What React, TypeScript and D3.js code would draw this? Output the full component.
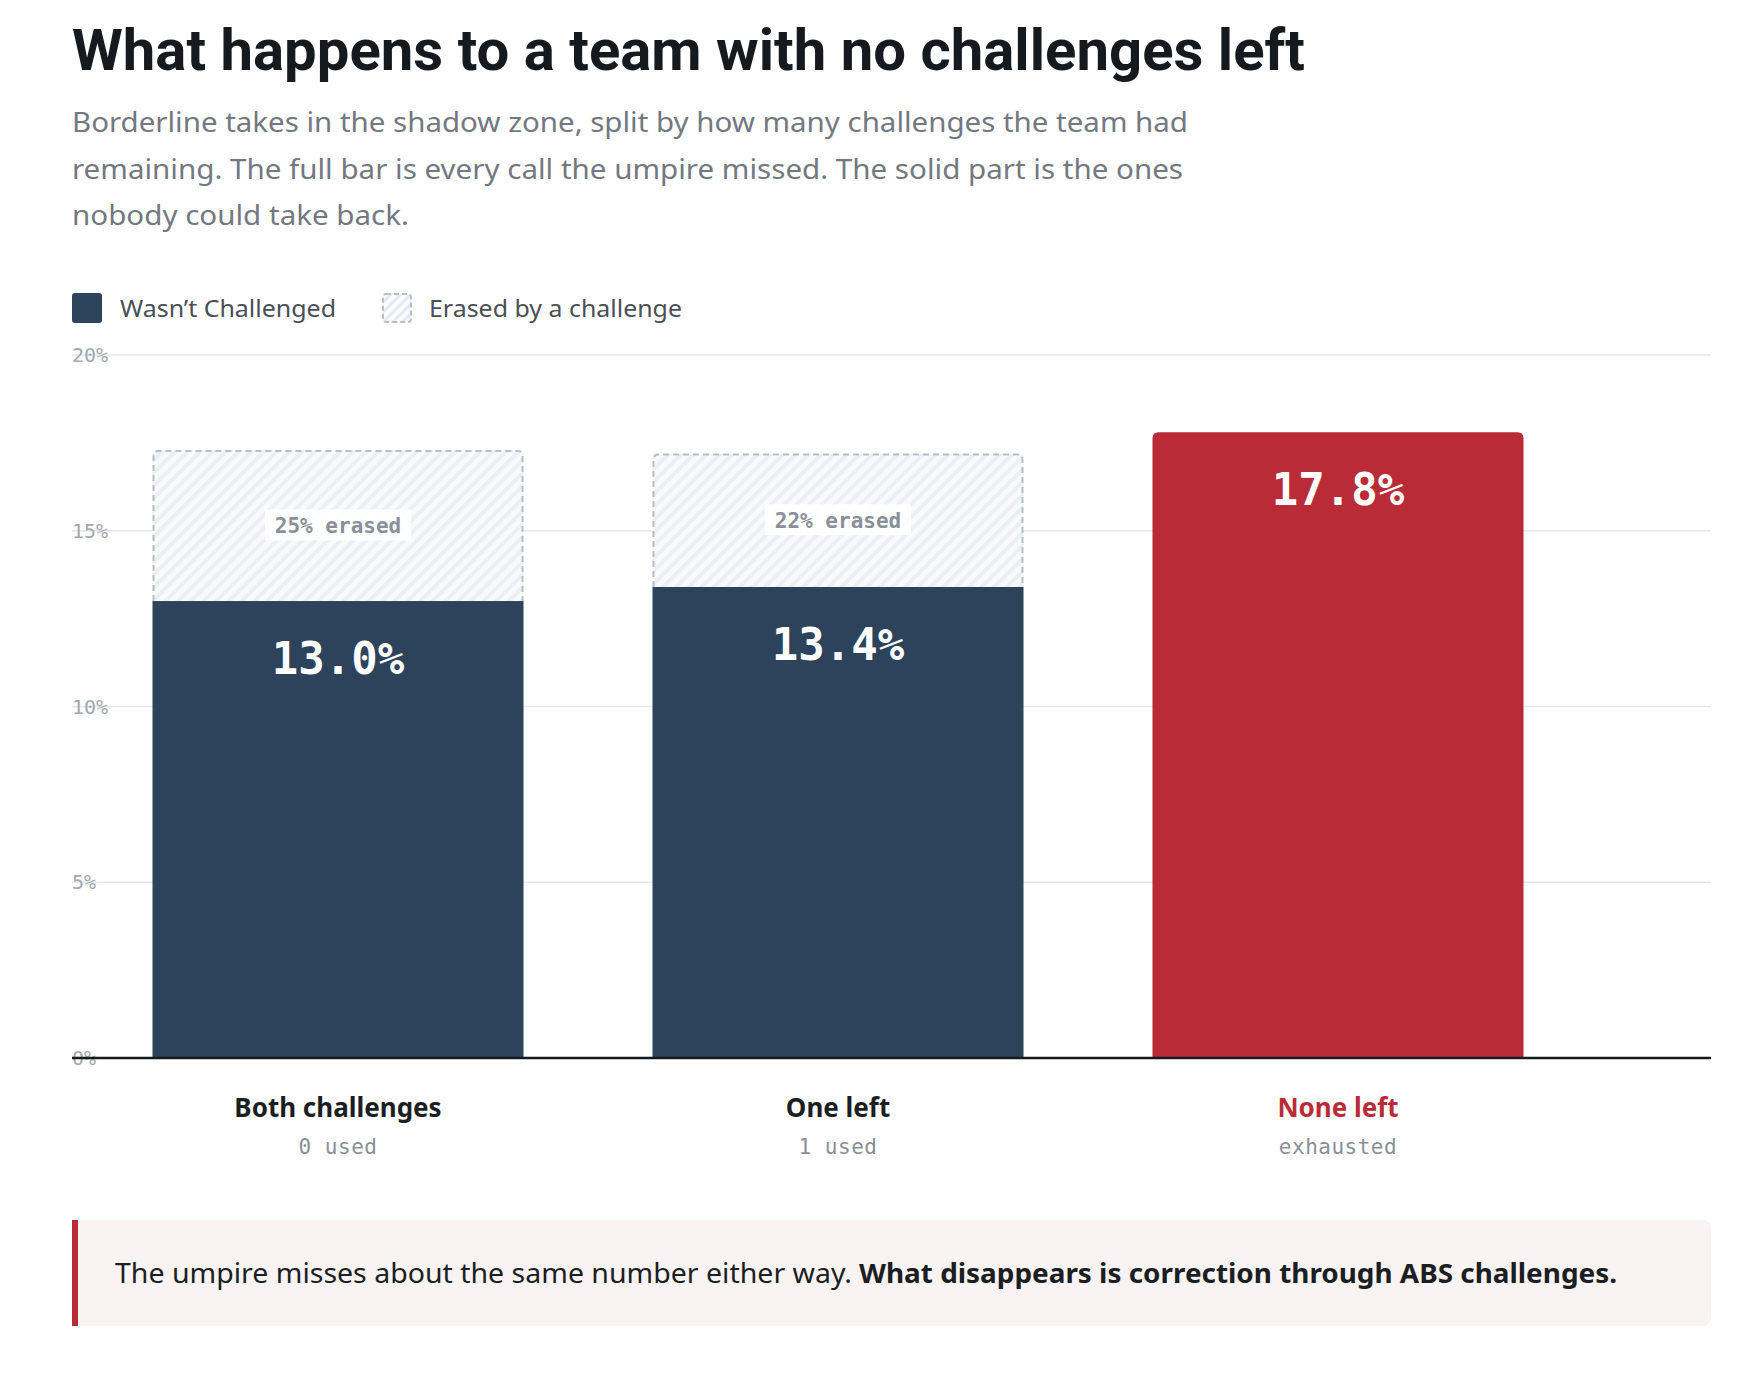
import React, { useEffect } from 'react'
import * as d3 from 'd3'

// chart data
const categories = ['Both challenges', 'One left', 'None left']
const subLabels = ['0 used', '1 used', 'exhausted']
const totalMissed = [17.3, 17.2, 17.8] // full bar: every missed call
const notChallenged = [13.0, 13.4, 17.8] // solid part
const erasedLabels = ['25% erased', '22% erased', '']
const yTicks = [0, 5, 10, 15, 20]

const subtitleLines = [
  'Borderline takes in the shadow zone, split by how many challenges the team had',
  'remaining. The full bar is every call the umpire missed. The solid part is the ones',
  'nobody could take back.',
]
const subtitleWidths = [1116, 1111, 337]

const W = 1746
const H = 1378
const SANS = '"Noto Sans", Roboto, sans-serif'
const MONO = '"DejaVu Sans Mono", "Liberation Mono", monospace'
const NAVY = '#2c435b'
const RED = '#b92b36'

// rect with only the top corners rounded
const topRounded = (x: number, y: number, w: number, h: number, r: number) =>
  `M${x},${y + h}V${y + r}Q${x},${y} ${x + r},${y}H${x + w - r}Q${x + w},${y} ${x + w},${y + r}V${y + h}Z`

const topOutline = (x: number, y: number, w: number, h: number, r: number) =>
  `M${x},${y + h}V${y + r}Q${x},${y} ${x + r},${y}H${x + w - r}Q${x + w},${y} ${x + w},${y + r}V${y + h}`

const App: React.FC = () => {
  useEffect(() => {
    document.body.style.margin = '0'
  }, [])

  const plotLeft = 72
  const plotRight = 1711

  const x = d3.scaleBand<string>()
    .domain(categories)
    .range([88, 1588])
    .paddingInner(0.258)
    .paddingOuter(0.129)

  const y = d3.scaleLinear().domain([0, 20]).range([1058, 355])

  const bw = x.bandwidth()
  const fmt = d3.format('.1f')

  return (
    <svg width={W} height={H} style={{ display: 'block', background: '#fff' }}>
      <defs>
        <pattern id="hatch" width="9" height="9" patternUnits="userSpaceOnUse" patternTransform="rotate(45)">
          <rect width="9" height="9" fill="#f9fafb" />
          <rect width="4" height="9" fill="#eceef1" />
        </pattern>
        <pattern id="hatchSmall" width="7" height="7" patternUnits="userSpaceOnUse" patternTransform="rotate(45)">
          <rect width="7" height="7" fill="#f9fafb" />
          <rect width="3" height="7" fill="#e6e9ed" />
        </pattern>
      </defs>

      {/* title + subtitle */}
      <text x={72} y={70} fontFamily='Roboto, "Noto Sans", sans-serif' fontWeight={700} fontSize={57} fill="#16191d"
        textLength={1233} lengthAdjust="spacingAndGlyphs">
        What happens to a team with no challenges left
      </text>
      {subtitleLines.map((line, i) => (
        <text key={i} x={72} y={132 + i * 46.5} fontFamily={SANS} fontSize={27} fill="#737881"
          textLength={subtitleWidths[i]} lengthAdjust="spacingAndGlyphs">
          {line}
        </text>
      ))}

      {/* legend */}
      <rect x={72} y={293} width={30} height={30} rx={3} fill={NAVY} />
      <text x={120} y={317} fontFamily={SANS} fontSize={24} fill="#4a4f57"
        textLength={216} lengthAdjust="spacingAndGlyphs">Wasn’t Challenged</text>
      <rect x={383} y={294} width={28} height={28} rx={3} fill="url(#hatchSmall)"
        stroke="#b9bfc8" strokeWidth={2} strokeDasharray="5 3" />
      <text x={429} y={317} fontFamily={SANS} fontSize={24} fill="#4a4f57"
        textLength={253} lengthAdjust="spacingAndGlyphs">Erased by a challenge</text>

      {/* grid */}
      {yTicks.map(t => (
        <g key={t}>
          <line x1={plotLeft} x2={plotRight} y1={y(t)} y2={y(t)} stroke="#e6e7ea" strokeWidth={1.5} />
          <text x={plotLeft} y={y(t) + 7} fontFamily={MONO} fontSize={20} fill="#a3a8b0">{t}%</text>
        </g>
      ))}

      {/* bars */}
      {categories.map((c, i) => {
        const x0 = x(c) as number
        const cx = x0 + bw / 2
        const last = i === categories.length - 1
        const yTot = y(totalMissed[i])
        const ySolid = y(notChallenged[i])
        return (
          <g key={c}>
            {!last && (
              <>
                <path d={topRounded(x0, yTot, bw, ySolid - yTot, 5)} fill="url(#hatch)" />
                <path d={topOutline(x0 + 1, yTot + 1, bw - 2, ySolid - yTot - 1, 5)} fill="none"
                  stroke="#b9bfc8" strokeWidth={2} strokeDasharray="6 4" />
                <rect x={cx - 73} y={(yTot + ySolid) / 2 - 16} width={146} height={31} fill="#fff" fillOpacity={0.9} />
                <text x={cx} y={(yTot + ySolid) / 2 + 8} textAnchor="middle" fontFamily={MONO}
                  fontWeight={700} fontSize={21} fill="#8a8f98">{erasedLabels[i]}</text>
                <rect x={x0} y={ySolid} width={bw} height={y(0) - ySolid} fill={NAVY} />
              </>
            )}
            {last && (
              <path d={topRounded(x0, ySolid, bw, y(0) - ySolid, 6)} fill={RED} />
            )}
            <text x={cx} y={ySolid + 73} textAnchor="middle" fontFamily={MONO} fontWeight={700}
              fontSize={44} fill="#fff">{fmt(notChallenged[i])}%</text>
            <text x={cx} y={1117} textAnchor="middle" fontFamily={SANS} fontWeight={700} fontSize={26}
              fill={last ? RED : '#1b1e22'}>{c}</text>
            <text x={cx} y={1154} textAnchor="middle" fontFamily={MONO} fontSize={21} fill="#8a8f98"
              letterSpacing={0.5}>{subLabels[i]}</text>
          </g>
        )
      })}

      {/* baseline */}
      <line x1={plotLeft} x2={plotRight} y1={y(0)} y2={y(0)} stroke="#16191d" strokeWidth={2.5} />

      {/* callout */}
      <rect x={72} y={1220} width={plotRight - 72} height={106} rx={8} fill="#f9f3f3" />
      <rect x={72} y={1220} width={6} height={106} fill={RED} />
      <text x={115} y={1283} fontFamily={SANS} fontSize={27} fill="#1b1e22"
        textLength={737} lengthAdjust="spacingAndGlyphs">
        The umpire misses about the same number either way.
      </text>
      <text x={859} y={1283} fontFamily={SANS} fontSize={27} fontWeight={700} fill="#1b1e22"
        textLength={758} lengthAdjust="spacingAndGlyphs">
        What disappears is correction through ABS challenges.
      </text>
    </svg>
  )
}

export default App
